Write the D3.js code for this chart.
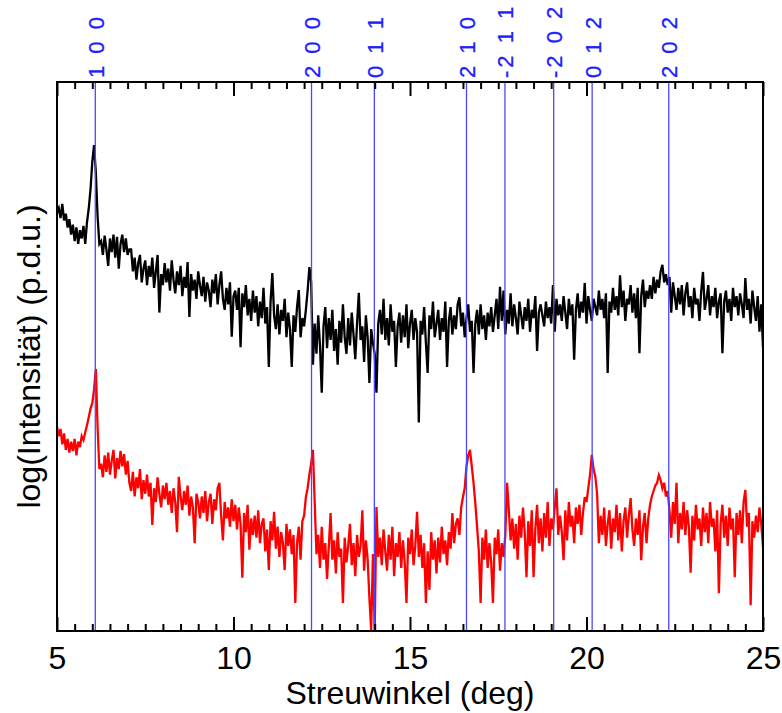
<!DOCTYPE html>
<html><head><meta charset="utf-8">
<script src="https://cdn.jsdelivr.net/npm/d3@7"></script>
<style>body{margin:0;background:#fff}</style>
</head><body><svg id="c" width="782" height="713"></svg>
<script>
// ---- data ----
const angleStart = 5, angleStep = 0.05; // measurement grid (deg)
const blackSeries = [
7.62,7.70,7.52,7.78,7.48,7.60,7.35,7.50,7.22,7.40,7.10,7.35,7.05,7.30,7.15,7.38,7.05,
7.45,7.70,8.05,8.55,8.85,8.35,7.55,7.05,
7.10,6.85,7.20,6.95,6.65,7.15,6.90,7.22,6.80,7.18,6.60,7.05,7.22,6.90,7.15,6.85,6.95,
6.95,6.55,6.80,6.40,6.70,6.85,6.35,6.60,6.75,6.30,
6.65,6.45,6.80,6.25,6.55,6.85,5.80,6.50,6.30,6.70,
6.35,6.60,6.20,6.75,6.40,6.15,6.55,6.30,6.65,6.10,
6.45,6.25,6.72,5.72,6.50,6.20,6.40,6.05,6.55,6.30,
6.10,6.45,6.00,6.35,6.20,5.90,6.40,6.15,6.50,5.95,
6.30,6.55,6.05,5.85,6.25,5.95,6.35,5.36,6.10,6.20,
5.85,6.25,5.17,6.15,5.90,6.30,5.75,6.05,5.65,6.20,
5.80,6.10,5.55,6.00,5.70,6.25,5.60,5.90,4.81,6.00,
6.52,5.75,5.50,5.95,5.40,5.85,5.65,6.05,5.35,5.80,
5.50,4.81,5.75,5.45,5.90,6.21,5.35,5.70,5.55,
5.85,6.20,6.63,6.35,4.85,
5.60,5.05,5.75,5.20,4.34,5.55,5.90,5.15,5.70,5.30,
5.85,5.10,5.50,4.85,5.65,5.25,5.95,5.35,5.05,5.70,
5.20,5.80,5.40,4.95,5.60,6.16,5.30,5.55,4.90,5.75,
5.35,4.52,5.50,5.25,5.05,4.34,5.60,5.85,5.40,6.05,
5.30,5.70,5.20,5.95,5.45,5.65,4.81,5.55,5.80,5.25,
5.75,5.35,5.95,5.15,5.60,5.85,5.30,5.70,5.45,3.80,
5.65,5.40,5.90,5.25,4.70,5.75,5.50,6.00,5.35,5.60,
5.85,5.30,5.70,5.45,6.00,4.81,5.65,5.90,5.40,5.75,
5.50,5.95,6.08,5.55,5.80,5.35,5.70,5.95,5.45,5.65,
4.70,5.60,5.85,5.40,5.95,5.50,5.75,5.30,5.80,5.55,
5.90,5.45,5.75,6.05,5.50,6.27,5.65,6.20,5.40,5.85,
5.60,6.15,5.55,5.95,5.70,5.40,6.00,5.75,5.50,5.90,
5.65,6.05,5.45,5.85,5.70,6.10,5.10,5.80,5.95,5.75,
5.55,6.00,5.70,5.90,5.60,6.30,5.45,6.05,5.75,5.95,
5.65,6.10,5.80,5.50,6.05,5.75,5.95,4.94,5.85,6.15,
5.70,6.00,5.80,6.34,5.60,6.10,5.85,5.65,6.05,5.90,
5.75,6.20,5.85,6.05,5.70,6.15,4.70,6.00,5.80,6.25,
5.85,6.10,5.75,6.48,5.90,6.20,5.65,6.05,5.95,6.30,
5.80,6.15,5.70,6.25,5.06,6.10,6.40,5.90,6.20,6.05,
6.30,6.05,6.45,6.15,6.40,6.25,6.55,6.67,6.35,6.50,
6.30,6.45,5.80,6.35,6.10,5.85,6.25,5.95,6.30,5.75,
6.15,6.35,5.90,6.10,5.70,6.25,5.95,6.05,5.65,6.20,
6.54,5.85,6.05,6.30,5.75,6.10,5.90,6.25,5.70,6.00,
6.15,5.06,6.00,6.20,5.80,6.05,5.65,6.25,5.90,6.10,
5.75,6.15,5.95,5.70,6.43,5.85,6.05,5.60,6.20,5.90,
5.65,6.10,5.45,5.95,5.17
];
const redSeries = [
3.72,3.55,3.68,3.40,3.60,3.30,3.50,3.25,3.45,3.28,3.50,3.20,3.45,3.35,3.55,3.48,3.62,
3.75,3.90,4.05,4.15,4.40,4.77,3.70,2.95,
3.05,2.80,3.20,2.90,3.25,2.85,3.10,3.30,2.78,3.15,2.95,3.28,3.00,3.22,2.85,3.10,2.70,
2.55,2.90,2.45,2.80,2.60,2.95,2.40,2.75,2.50,2.85,
2.45,2.70,1.93,2.60,2.35,2.80,2.50,2.25,2.65,2.40,
2.70,2.30,2.55,2.15,2.60,2.35,1.80,2.81,2.45,2.20,
2.55,2.30,2.65,2.10,2.45,2.25,1.60,2.50,2.35,2.05,
2.45,2.15,2.55,2.00,2.35,2.50,1.95,2.40,2.20,2.60,
2.70,2.10,1.65,2.35,2.05,2.25,1.90,2.40,2.00,2.30,
1.85,2.25,1.95,0.97,2.15,1.80,2.30,1.48,2.05,1.75,
2.10,1.70,2.20,1.60,1.95,2.05,1.45,1.85,1.11,2.00,
1.65,2.17,1.50,1.90,1.35,1.80,1.60,1.11,1.95,1.55,
1.85,1.40,1.75,0.51,1.60,1.90,1.30,2.00,2.10,
2.44,2.60,2.85,3.05,3.30,
2.35,1.40,1.75,1.15,1.90,1.30,1.60,0.95,1.55,2.15,
1.30,1.65,1.05,1.80,1.35,1.50,0.51,1.70,1.25,1.55,
1.95,1.20,1.60,1.00,1.75,1.35,1.55,2.20,1.10,1.65,
1.30,0.60,0.02,1.40,0.02,2.26,1.35,1.70,1.20,1.85,
1.45,1.10,1.75,1.30,1.90,1.00,1.60,1.35,1.80,1.15,
1.65,1.25,0.51,1.70,1.40,1.85,1.20,1.55,2.17,1.35,
1.75,1.15,1.60,0.51,1.45,0.75,1.80,1.30,1.65,1.05,
1.70,1.25,1.90,1.40,1.65,1.20,1.80,1.50,2.15,1.60,
1.95,2.05,1.75,2.25,2.44,2.60,3.00,3.20,3.30,3.00,
2.70,2.33,1.90,1.45,0.51,1.70,1.30,1.85,1.15,1.60,
1.25,0.51,1.70,1.40,1.85,1.10,1.60,1.35,1.75,2.70,
2.20,1.65,2.05,1.50,1.95,1.30,2.10,1.70,2.25,1.80,
0.98,2.00,1.55,2.20,0.98,1.85,2.30,1.60,2.05,1.45,
2.15,1.70,2.35,1.55,2.05,1.85,2.25,2.60,1.75,2.10,
1.80,1.29,2.20,1.65,2.35,1.90,2.10,1.60,2.25,1.95,
2.30,1.75,2.15,2.44,2.35,2.60,2.85,3.21,2.95,2.81,
2.50,1.60,2.10,1.75,2.25,1.55,1.95,2.20,1.50,2.05,
1.80,2.30,1.65,2.15,1.45,2.00,2.25,1.70,2.10,2.42,
1.85,1.55,2.05,1.75,2.20,1.29,1.90,2.15,1.60,2.05,
2.30,2.45,2.55,2.65,2.70,2.84,2.75,2.60,2.70,2.45,
2.55,2.20,1.70,2.35,1.95,2.70,1.60,2.15,1.85,2.35,
1.75,2.20,1.90,1.06,2.10,1.65,2.30,1.85,2.05,1.55,
2.25,1.80,2.15,1.60,2.35,1.90,2.05,1.45,2.20,0.69,
1.95,2.30,1.70,2.10,1.55,2.25,1.85,2.05,0.98,2.15,
1.75,2.20,1.60,2.35,2.57,1.90,2.15,0.47,2.00,1.70,
2.10,1.80,2.25,1.95,1.53
];
const reflexPositions = [6.085, 12.21, 13.99, 16.6, 17.69, 19.07, 20.16, 22.33];
const reflexLabels = ["1 0 0", "2 0 0", "0 1 1", "2 1 0", "-2 1 1", "-2 0 2", "0 1 2", "2 0 2"];
const xMajorTicks = [5, 10, 15, 20, 25];
const xDomain = [5, 25];
const yDomain = [0, 10];
const xTitle = "Streuwinkel (deg)";
const yTitle = "log(Intensität) (p.d.u.)";

// ---- layout ----
const L = 57, R = 763, T = 82, B = 631;
const FONT = "Arial, 'Liberation Sans', sans-serif";
const svg = d3.select("#c");
const x = d3.scaleLinear().domain(xDomain).range([L, R]);
const y = d3.scaleLinear().domain(yDomain).range([B, T]);

const minorTicks = d3.range(xDomain[0], xDomain[1] + 0.001, 0.5).filter(v => !xMajorTicks.includes(v));

svg.append("defs").append("clipPath").attr("id", "clip")
  .append("rect").attr("x", L).attr("y", T).attr("width", R - L).attr("height", B - T);

const line = d3.line().x((d, i) => x(angleStart + i * angleStep)).y(d => y(d));

const data = svg.append("g").attr("clip-path", "url(#clip)");
data.append("path").datum(blackSeries).attr("d", line)
  .attr("fill", "none").attr("stroke", "#000").attr("stroke-width", 2.3);
data.append("path").datum(redSeries).attr("d", line)
  .attr("fill", "none").attr("stroke", "#ff0000").attr("stroke-width", 2.3);

// reflex lines
data.selectAll("line.reflex").data(reflexPositions).join("line")
  .attr("class", "reflex")
  .attr("x1", d => x(d)).attr("x2", d => x(d))
  .attr("y1", T).attr("y2", B)
  .attr("stroke", "#4848ff").attr("stroke-width", 1.3);

// reflex labels
svg.selectAll("text.rl").data(reflexPositions).join("text")
  .attr("class", "rl")
  .attr("transform", d => `translate(${x(d) + 8.5},78) rotate(-90)`)
  .attr("font-family", FONT).attr("font-size", 22)
  .attr("letter-spacing", 3)
  .attr("fill", "#2020ff")
  .attr("stroke", "#2020ff").attr("stroke-width", 0.3)
  .text((d, i) => reflexLabels[i]);

// axes
function styleAxis(g) {
  g.select(".domain").remove();
  g.selectAll(".tick line").attr("stroke", "#000").attr("stroke-width", 2);
  g.selectAll(".tick text").attr("font-family", FONT).attr("font-size", 32).attr("fill", "#000");
}
svg.append("g").attr("transform", `translate(0,${B})`)
  .call(d3.axisBottom(x).tickValues(minorTicks).tickSize(-7).tickSizeOuter(0).tickFormat(""))
  .call(styleAxis);
svg.append("g").attr("transform", `translate(0,${B})`)
  .call(d3.axisBottom(x).tickValues(xMajorTicks).tickSize(-14).tickSizeOuter(0).tickPadding(15).tickFormat(d3.format("d")))
  .call(styleAxis);
svg.append("g").attr("transform", `translate(0,${T})`)
  .call(d3.axisTop(x).tickValues(minorTicks).tickSize(-7).tickSizeOuter(0).tickFormat(""))
  .call(styleAxis);
svg.append("g").attr("transform", `translate(0,${T})`)
  .call(d3.axisTop(x).tickValues(xMajorTicks).tickSize(-14).tickSizeOuter(0).tickFormat(""))
  .call(styleAxis);

// frame
svg.append("rect").attr("x", L).attr("y", T).attr("width", R - L).attr("height", B - T)
  .attr("fill", "none").attr("stroke", "#000").attr("stroke-width", 2);

// titles
svg.append("text").attr("x", (L + R) / 2).attr("y", 704)
  .attr("text-anchor", "middle").attr("font-family", FONT).attr("font-size", 32)
  .text(xTitle);
svg.append("text").attr("transform", `translate(40,${(T + B) / 2}) rotate(-90)`)
  .attr("text-anchor", "middle").attr("font-family", FONT).attr("font-size", 32)
  .text(yTitle);
</script>
</body></html>
